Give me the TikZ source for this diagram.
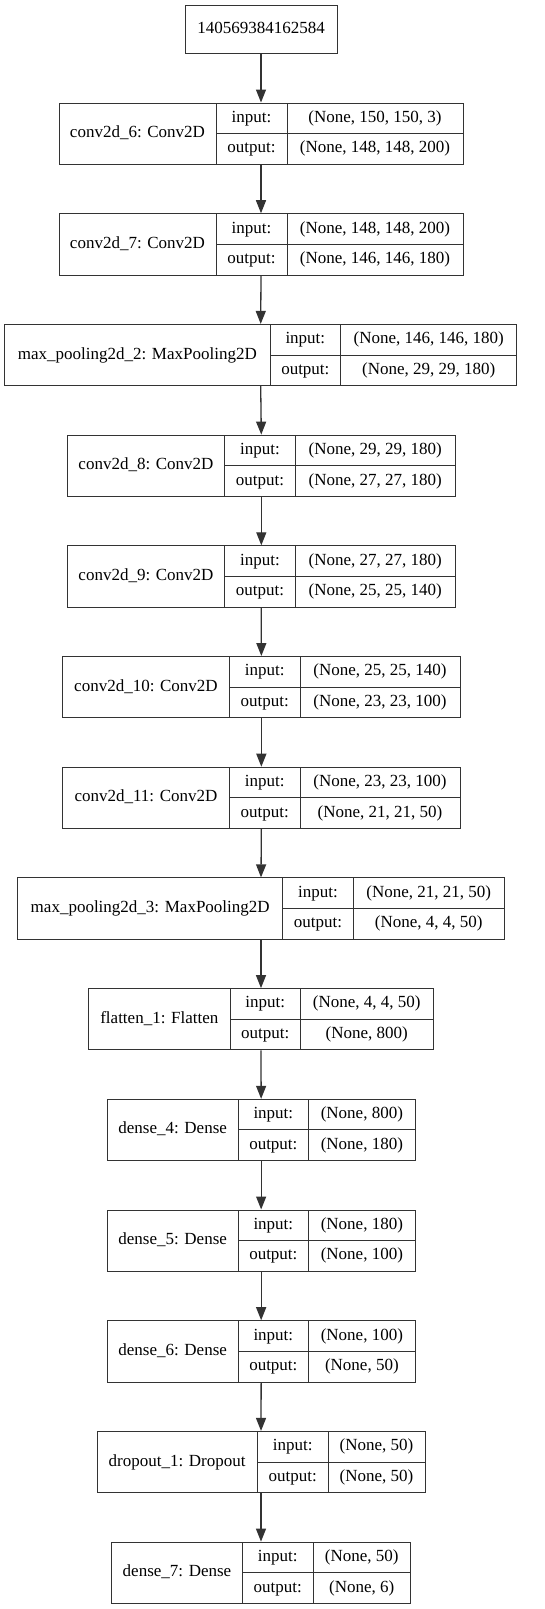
\documentclass[tikz,border=0pt]{standalone}
\usepackage{fontspec}
\setmainfont{Liberation Serif}
\usetikzlibrary{arrows.meta}
\definecolor{linec}{RGB}{51,51,51}
\tikzset{
  layerbox/.style={draw=linec, line width=1pt, inner sep=0pt},
  cell/.style={inner sep=0pt, text height=11.5pt, text depth=3.5pt, font=\fontsize{17}{20}\selectfont},
  divider/.style={draw=linec, line width=1pt},
  flow/.style={draw=linec, line width=1.3pt, -{Triangle[length=13pt,width=10pt]}},
}
\newcommand{\nnlayer}[9]{%
  \pgfmathsetmacro\yt{103+(#2-1)*110.7}%
  \pgfmathsetmacro\yb{\yt+61.3}%
  \pgfmathsetmacro\ym{\yt+30.65}%
  \pgfmathsetmacro\yq{\yt+15.33}%
  \pgfmathsetmacro\yr{\yt+45.98}%
  \pgfmathsetmacro\w{#6-#3}%
  \pgfmathsetmacro\xc{(#3+#6)/2}%
  \pgfmathsetmacro\xa{(#3+#4)/2}%
  \pgfmathsetmacro\xb{(#4+#5)/2}%
  \pgfmathsetmacro\xd{(#5+#6)/2}%
  \node[layerbox, minimum width=\w pt, minimum height=61.3pt] (#1) at (\xc,\ym) {};
  \draw[divider] (#4,\yt) -- (#4,\yb) (#5,\yt) -- (#5,\yb) (#4,\ym) -- (#6,\ym);
  \node[cell] (#1-name) at (\xa,\ym) {#7};
  \node[cell] (#1-inl) at (\xb,\yq) {input:};
  \node[cell] (#1-outl) at (\xb,\yr) {output:};
  \node[cell] (#1-in) at (\xd,\yq) {#8};
  \node[cell] (#1-out) at (\xd,\yr) {#9};
}
\begin{document}
\begin{tikzpicture}[x=1pt,y=-1pt]
\fill[white] (0,0) rectangle (544,1609);
\useasboundingbox (0,0) rectangle (544,1609);
\node[layerbox, minimum width=152pt, minimum height=48pt] (top) at (261,29) {};
\node[cell] (top-text) at (261,29) {140569384162584};
\nnlayer{conv6}{1}{59}{216}{287}{463}{conv2d\_6: Conv2D}{(None, 150, 150, 3)}{(None, 148, 148, 200)}
\nnlayer{conv7}{2}{59}{216}{287}{463}{conv2d\_7: Conv2D}{(None, 148, 148, 200)}{(None, 146, 146, 180)}
\nnlayer{pool2}{3}{4.7}{270}{340.7}{516.7}{max\_pooling2d\_2: MaxPooling2D}{(None, 146, 146, 180)}{(None, 29, 29, 180)}
\nnlayer{conv8}{4}{67.3}{224.7}{295.3}{455.3}{conv2d\_8: Conv2D}{(None, 29, 29, 180)}{(None, 27, 27, 180)}
\nnlayer{conv9}{5}{67.3}{224.7}{295.3}{455.3}{conv2d\_9: Conv2D}{(None, 27, 27, 180)}{(None, 25, 25, 140)}
\nnlayer{conv10}{6}{62.7}{229.3}{300}{460}{conv2d\_10: Conv2D}{(None, 25, 25, 140)}{(None, 23, 23, 100)}
\nnlayer{conv11}{7}{62.7}{229.3}{300}{460}{conv2d\_11: Conv2D}{(None, 23, 23, 100)}{(None, 21, 21, 50)}
\nnlayer{pool3}{8}{17.7}{282.7}{353.3}{504.3}{max\_pooling2d\_3: MaxPooling2D}{(None, 21, 21, 50)}{(None, 4, 4, 50)}
\nnlayer{flat}{9}{88.7}{230}{300.3}{433.3}{flatten\_1: Flatten}{(None, 4, 4, 50)}{(None, 800)}
\nnlayer{dense4}{10}{107.3}{238}{308.7}{415}{dense\_4: Dense}{(None, 800)}{(None, 180)}
\nnlayer{dense5}{11}{107.3}{238}{308.7}{415}{dense\_5: Dense}{(None, 180)}{(None, 100)}
\nnlayer{dense6}{12}{107.3}{238}{308.7}{415}{dense\_6: Dense}{(None, 100)}{(None, 50)}
\nnlayer{drop}{13}{97}{257.3}{328}{425}{dropout\_1: Dropout}{(None, 50)}{(None, 50)}
\nnlayer{dense7}{14}{111.7}{242.3}{313.3}{410.3}{dense\_7: Dense}{(None, 50)}{(None, 6)}
\foreach \a/\b in {top/conv6, conv6/conv7, conv7/pool2, pool2/conv8, conv8/conv9, conv9/conv10, conv10/conv11, conv11/pool3, pool3/flat, flat/dense4, dense4/dense5, dense5/dense6, dense6/drop, drop/dense7}
  \draw[flow] (\a.south) -- (\b.north);
\end{tikzpicture}
\end{document}
